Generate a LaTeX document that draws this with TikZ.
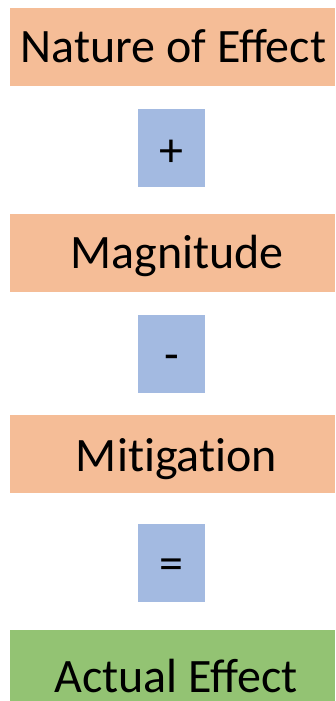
\documentclass[tikz,border=0pt]{standalone}
\usepackage{fontspec}
\setmainfont{Carlito}
\definecolor{boxorange}{HTML}{F5BD97}
\definecolor{boxblue}{HTML}{A3BAE1}
\definecolor{boxgreen}{HTML}{93C373}
\begin{document}
\begin{tikzpicture}[x=1pt,y=-1pt,
  txt/.style={anchor=base,inner sep=0pt,font=\fontsize{48}{52}\selectfont},
]
\useasboundingbox (0,0) rectangle (335,701);
% orange boxes
\fill[boxorange] (10,8) rectangle (335,86);
\fill[boxorange] (10,214) rectangle (335,292);
\fill[boxorange] (10,415) rectangle (335,493);
\fill[boxgreen] (10,630) rectangle (335,701);
% blue boxes
\fill[boxblue] (138,109) rectangle (205,187);
\fill[boxblue] (138,315) rectangle (205,393);
\fill[boxblue] (138,524) rectangle (205,602);
% texts
\node[txt] (nat) at (173.5,63) {Nature of Effect};
\node[txt] (mag) at (177,268) {Magnitude};
\node[txt] (mit) at (176.5,471) {Mit\kern0pt igat\kern0pt ion};
\node[txt] (act) at (176,692) {Actual Effect};
\node[txt] (plus) at (171.5,166) {+};
\node[txt] (minus) at (171.5,370) {-};
\node[txt] (eq) at (171.5,579) {=};
\end{tikzpicture}
\end{document}
